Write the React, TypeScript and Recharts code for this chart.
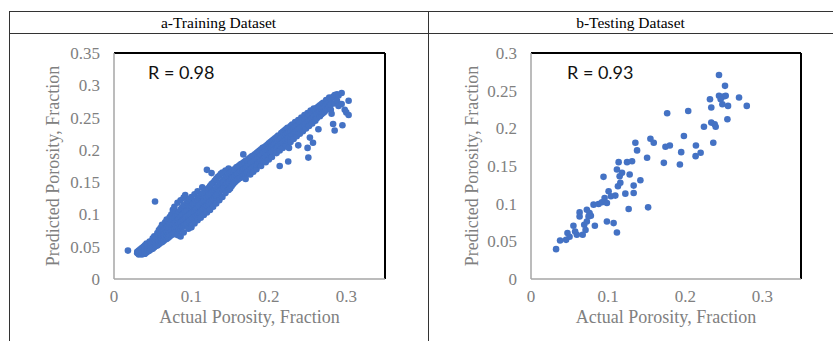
import React from 'react';
import { ScatterChart, Scatter, XAxis, YAxis, ReferenceLine } from 'recharts';

const panelTitles = ['a-Training Dataset', 'b-Testing Dataset'];
const rLabels = ['R = 0.98', 'R = 0.93'];
const xTitle = 'Actual Porosity, Fraction';
const yTitle = 'Predicted Porosity, Fraction';
const xTicks = [0, 0.1, 0.2, 0.3];
const trainYTicks = [0, 0.05, 0.1, 0.15, 0.2, 0.25, 0.3, 0.35];
const testYTicks = [0, 0.05, 0.1, 0.15, 0.2, 0.25, 0.3];

// [actual, predicted]
const trainingPoints: [number, number][] = [
  [0.018, 0.044],
  [0.030, 0.040], [0.030, 0.042],
  [0.032, 0.038], [0.032, 0.041], [0.032, 0.044],
  [0.034, 0.039], [0.034, 0.043], [0.034, 0.046],
  [0.036, 0.038], [0.036, 0.041], [0.036, 0.045], [0.036, 0.048],
  [0.038, 0.040], [0.038, 0.043], [0.038, 0.047], [0.038, 0.050],
  [0.040, 0.039], [0.040, 0.042], [0.040, 0.045], [0.040, 0.049], [0.040, 0.052],
  [0.042, 0.041], [0.042, 0.044], [0.042, 0.047], [0.042, 0.051], [0.042, 0.055],
  [0.044, 0.043], [0.044, 0.046], [0.044, 0.049], [0.044, 0.053],
  [0.046, 0.044], [0.046, 0.048], [0.046, 0.051], [0.046, 0.055], [0.046, 0.058],
  [0.048, 0.046], [0.048, 0.050], [0.048, 0.053], [0.048, 0.057],
  [0.050, 0.047], [0.050, 0.051], [0.050, 0.055], [0.050, 0.059], [0.050, 0.063],
  [0.052, 0.049], [0.052, 0.053], [0.052, 0.057], [0.052, 0.061], [0.052, 0.066],
  [0.053, 0.120],
  [0.054, 0.051], [0.054, 0.055], [0.054, 0.059], [0.054, 0.064],
  [0.056, 0.052], [0.056, 0.057], [0.056, 0.061], [0.056, 0.066], [0.056, 0.071],
  [0.058, 0.054], [0.058, 0.058], [0.058, 0.063], [0.058, 0.068], [0.058, 0.076],
  [0.060, 0.056], [0.060, 0.060], [0.060, 0.065], [0.060, 0.070], [0.060, 0.079],
  [0.062, 0.057], [0.062, 0.062], [0.062, 0.067], [0.062, 0.073], [0.062, 0.084],
  [0.064, 0.059], [0.064, 0.064], [0.064, 0.069], [0.064, 0.075], [0.064, 0.081],
  [0.066, 0.061], [0.066, 0.066], [0.066, 0.071], [0.066, 0.078], [0.066, 0.088],
  [0.068, 0.062], [0.068, 0.068], [0.068, 0.074], [0.068, 0.081], [0.068, 0.092],
  [0.070, 0.064], [0.070, 0.070], [0.070, 0.076], [0.070, 0.083], [0.070, 0.090],
  [0.072, 0.066], [0.072, 0.072], [0.072, 0.079], [0.072, 0.086], [0.072, 0.096],
  [0.074, 0.068], [0.074, 0.075], [0.074, 0.081], [0.074, 0.089], [0.074, 0.100],
  [0.076, 0.069], [0.076, 0.077], [0.076, 0.084], [0.076, 0.093], [0.076, 0.107],
  [0.078, 0.071], [0.078, 0.079], [0.078, 0.086], [0.078, 0.095], [0.078, 0.112],
  [0.080, 0.073], [0.080, 0.081], [0.080, 0.088], [0.080, 0.098], [0.080, 0.104],
  [0.082, 0.068], [0.082, 0.083], [0.082, 0.091], [0.082, 0.101], [0.082, 0.118],
  [0.084, 0.076], [0.084, 0.085], [0.084, 0.093], [0.084, 0.104],
  [0.086, 0.066], [0.086, 0.078], [0.086, 0.088], [0.086, 0.096], [0.086, 0.108], [0.086, 0.122],
  [0.088, 0.080], [0.088, 0.090], [0.088, 0.099], [0.088, 0.111],
  [0.090, 0.072], [0.090, 0.082], [0.090, 0.092], [0.090, 0.101], [0.090, 0.114], [0.090, 0.126],
  [0.092, 0.084], [0.092, 0.094], [0.092, 0.104], [0.092, 0.130],
  [0.094, 0.086], [0.094, 0.096], [0.094, 0.106], [0.094, 0.118],
  [0.096, 0.078], [0.096, 0.088], [0.096, 0.098], [0.096, 0.109], [0.096, 0.121],
  [0.098, 0.090], [0.098, 0.100], [0.098, 0.111], [0.098, 0.124],
  [0.100, 0.080], [0.100, 0.092], [0.100, 0.102], [0.100, 0.113], [0.100, 0.127],
  [0.102, 0.094], [0.102, 0.104], [0.102, 0.116],
  [0.104, 0.086], [0.104, 0.096], [0.104, 0.106], [0.104, 0.118], [0.104, 0.131],
  [0.106, 0.098], [0.106, 0.108], [0.106, 0.121],
  [0.108, 0.091], [0.108, 0.100], [0.108, 0.111], [0.108, 0.123], [0.108, 0.136],
  [0.110, 0.102], [0.110, 0.113], [0.110, 0.126],
  [0.112, 0.095], [0.112, 0.104], [0.112, 0.116], [0.112, 0.129],
  [0.114, 0.106], [0.114, 0.118], [0.114, 0.132], [0.114, 0.142],
  [0.116, 0.099], [0.116, 0.109], [0.116, 0.121], [0.116, 0.134],
  [0.118, 0.111], [0.118, 0.123], [0.118, 0.137],
  [0.120, 0.103], [0.120, 0.114], [0.120, 0.126], [0.120, 0.139], [0.120, 0.169],
  [0.122, 0.116], [0.122, 0.128], [0.122, 0.141],
  [0.124, 0.107], [0.124, 0.119], [0.124, 0.131], [0.124, 0.144],
  [0.126, 0.121], [0.126, 0.133], [0.126, 0.147], [0.126, 0.164],
  [0.128, 0.112], [0.128, 0.124], [0.128, 0.136], [0.128, 0.149],
  [0.130, 0.126], [0.130, 0.138], [0.130, 0.152],
  [0.132, 0.117], [0.132, 0.129], [0.132, 0.141], [0.132, 0.155],
  [0.134, 0.131], [0.134, 0.143], [0.134, 0.158],
  [0.136, 0.122], [0.136, 0.134], [0.136, 0.146], [0.136, 0.160],
  [0.138, 0.137], [0.138, 0.149], [0.138, 0.163],
  [0.140, 0.127], [0.140, 0.139], [0.140, 0.151], [0.140, 0.165],
  [0.142, 0.142], [0.142, 0.154], [0.142, 0.150],
  [0.144, 0.133], [0.144, 0.145], [0.144, 0.157], [0.144, 0.168],
  [0.146, 0.147], [0.146, 0.159],
  [0.148, 0.138], [0.148, 0.150], [0.148, 0.162], [0.148, 0.171],
  [0.150, 0.140], [0.150, 0.152], [0.150, 0.164],
  [0.152, 0.144], [0.152, 0.155], [0.152, 0.166],
  [0.154, 0.147], [0.154, 0.157], [0.154, 0.169],
  [0.156, 0.150], [0.156, 0.159], [0.156, 0.170],
  [0.158, 0.152], [0.158, 0.161], [0.158, 0.173],
  [0.160, 0.154], [0.160, 0.163], [0.160, 0.174],
  [0.162, 0.156], [0.162, 0.165], [0.162, 0.176],
  [0.164, 0.157], [0.164, 0.167], [0.164, 0.178],
  [0.166, 0.159], [0.166, 0.168], [0.166, 0.179],
  [0.167, 0.193],
  [0.168, 0.161], [0.168, 0.170], [0.168, 0.181],
  [0.170, 0.155], [0.170, 0.163], [0.170, 0.172], [0.170, 0.183],
  [0.172, 0.165], [0.172, 0.174], [0.172, 0.184],
  [0.174, 0.167], [0.174, 0.176], [0.174, 0.186],
  [0.176, 0.162], [0.176, 0.169], [0.176, 0.178], [0.176, 0.188],
  [0.178, 0.171], [0.178, 0.180], [0.178, 0.190],
  [0.180, 0.166], [0.180, 0.173], [0.180, 0.182], [0.180, 0.191],
  [0.182, 0.175], [0.182, 0.184], [0.182, 0.193],
  [0.184, 0.170], [0.184, 0.177], [0.184, 0.186], [0.184, 0.195],
  [0.186, 0.179], [0.186, 0.188], [0.186, 0.197],
  [0.188, 0.181], [0.188, 0.190], [0.188, 0.199],
  [0.190, 0.175], [0.190, 0.183], [0.190, 0.192], [0.190, 0.201],
  [0.192, 0.185], [0.192, 0.194], [0.192, 0.203],
  [0.194, 0.187], [0.194, 0.196], [0.194, 0.204],
  [0.196, 0.181], [0.196, 0.189], [0.196, 0.198], [0.196, 0.206],
  [0.198, 0.191], [0.198, 0.200], [0.198, 0.208],
  [0.200, 0.185], [0.200, 0.193], [0.200, 0.202], [0.200, 0.210],
  [0.202, 0.195], [0.202, 0.204], [0.202, 0.212],
  [0.204, 0.189], [0.204, 0.197], [0.204, 0.206], [0.204, 0.214],
  [0.206, 0.199], [0.206, 0.208], [0.206, 0.216],
  [0.208, 0.201], [0.208, 0.210], [0.208, 0.218],
  [0.210, 0.195], [0.210, 0.203], [0.210, 0.212], [0.210, 0.220],
  [0.212, 0.205], [0.212, 0.214], [0.212, 0.222],
  [0.214, 0.175], [0.214, 0.199], [0.214, 0.207], [0.214, 0.216],
  [0.216, 0.209], [0.216, 0.218], [0.216, 0.226],
  [0.218, 0.203], [0.218, 0.211], [0.218, 0.220], [0.218, 0.228],
  [0.220, 0.213], [0.220, 0.222], [0.220, 0.230],
  [0.222, 0.207], [0.222, 0.215], [0.222, 0.224], [0.222, 0.232],
  [0.224, 0.217], [0.224, 0.226], [0.224, 0.234],
  [0.225, 0.182],
  [0.226, 0.203], [0.226, 0.219], [0.226, 0.228],
  [0.228, 0.212], [0.228, 0.221], [0.228, 0.230], [0.228, 0.237],
  [0.230, 0.223], [0.230, 0.232], [0.230, 0.239],
  [0.232, 0.217], [0.232, 0.225], [0.232, 0.234],
  [0.234, 0.227], [0.234, 0.236], [0.234, 0.243],
  [0.236, 0.221], [0.236, 0.229], [0.236, 0.238],
  [0.238, 0.207], [0.238, 0.231], [0.238, 0.240], [0.238, 0.246],
  [0.240, 0.225], [0.240, 0.233], [0.240, 0.242],
  [0.242, 0.235], [0.242, 0.244], [0.242, 0.250],
  [0.244, 0.229], [0.244, 0.237], [0.244, 0.246],
  [0.246, 0.239], [0.246, 0.248], [0.246, 0.254],
  [0.248, 0.233], [0.248, 0.241], [0.248, 0.250],
  [0.250, 0.203], [0.250, 0.243], [0.250, 0.252], [0.250, 0.257],
  [0.251, 0.188],
  [0.252, 0.237], [0.252, 0.245], [0.252, 0.254],
  [0.253, 0.219],
  [0.254, 0.247], [0.254, 0.256], [0.254, 0.261],
  [0.256, 0.241], [0.256, 0.249], [0.256, 0.258],
  [0.257, 0.211],
  [0.258, 0.251], [0.258, 0.260], [0.258, 0.264],
  [0.260, 0.245], [0.260, 0.254], [0.260, 0.262],
  [0.262, 0.249], [0.262, 0.256], [0.262, 0.265],
  [0.264, 0.232], [0.264, 0.258], [0.264, 0.267],
  [0.266, 0.252], [0.266, 0.260], [0.266, 0.269],
  [0.268, 0.255], [0.268, 0.263], [0.268, 0.271],
  [0.270, 0.257], [0.270, 0.265], [0.270, 0.273],
  [0.272, 0.259], [0.272, 0.268],
  [0.274, 0.262], [0.274, 0.270], [0.274, 0.277],
  [0.276, 0.264], [0.276, 0.272],
  [0.278, 0.266], [0.278, 0.275], [0.278, 0.281],
  [0.280, 0.262], [0.280, 0.270], [0.280, 0.279],
  [0.281, 0.256],
  [0.283, 0.240], [0.283, 0.282],
  [0.285, 0.230], [0.285, 0.272], [0.285, 0.285],
  [0.288, 0.276], [0.288, 0.286],
  [0.290, 0.284], [0.290, 0.268],
  [0.294, 0.288], [0.294, 0.271],
  [0.295, 0.238],
  [0.298, 0.262],
  [0.300, 0.258],
  [0.303, 0.254], [0.303, 0.276],
];

// [actual, predicted]
const testingPoints: [number, number][] = [
  [0.0325, 0.0396], [0.0377, 0.0511], [0.0455, 0.052], [0.0473, 0.061], [0.05, 0.056],
  [0.055, 0.0707], [0.0594, 0.0587], [0.063, 0.0884], [0.063, 0.083], [0.067, 0.0587],
  [0.069, 0.072], [0.0707, 0.065], [0.0724, 0.0764], [0.0724, 0.092], [0.0759, 0.0876],
  [0.0776, 0.084], [0.0828, 0.0707], [0.0811, 0.0987], [0.0876, 0.0996], [0.092, 0.1018],
  [0.094, 0.1356], [0.0954, 0.1076], [0.0984, 0.0764], [0.1006, 0.1164], [0.1036, 0.1098],
  [0.1071, 0.0742], [0.1093, 0.1107], [0.1114, 0.0618], [0.1114, 0.1453], [0.1127, 0.1231],
  [0.1136, 0.1551], [0.1149, 0.1364], [0.118, 0.1409], [0.1223, 0.1133], [0.1245, 0.1551],
  [0.1266, 0.0929], [0.1279, 0.1387], [0.131, 0.1564], [0.1331, 0.124], [0.1331, 0.1142],
  [0.1353, 0.1809], [0.1375, 0.1707], [0.1418, 0.1311], [0.1505, 0.1609], [0.1518, 0.0951],
  [0.1548, 0.1862], [0.1591, 0.1809], [0.1722, 0.1542], [0.1743, 0.1756], [0.1765, 0.22],
  [0.18, 0.1773], [0.193, 0.152], [0.1947, 0.1684], [0.1982, 0.1898], [0.2038, 0.2231],
  [0.2134, 0.1631], [0.2138, 0.1773], [0.2199, 0.1676], [0.2242, 0.2022], [0.232, 0.2387],
  [0.2337, 0.2276], [0.2337, 0.2076], [0.2363, 0.1809], [0.2381, 0.2053], [0.2394, 0.2022],
  [0.2437, 0.2707], [0.2437, 0.2431], [0.2481, 0.232], [0.2494, 0.2422], [0.2515, 0.2564],
  [0.2524, 0.2431], [0.2546, 0.212], [0.2554, 0.2298], [0.2697, 0.2409], [0.2797, 0.2298],
  [0.1158, 0.1276], [0.0984, 0.1009], [0.0746, 0.0831], [0.0572, 0.0631], [0.2459, 0.2387],
];

const DOT = '#4472C4';
const GREY_TEXT = '#808080';
const AXIS_GREY = '#a6a6a6';
const SERIF = '"Liberation Serif", "Times New Roman", serif';

const Dot = (props: any) => <circle cx={props.cx} cy={props.cy} r={3.3} fill={DOT} />;

type PanelProps = {
  points: [number, number][];
  yTicks: number[];
  yMax: number;
  left: number;
  width: number;
  yAxisWidth: number;
  marginRight: number;
  yLabelOffset: number;
};

const tickStyle = { fill: GREY_TEXT, fontFamily: SERIF, fontSize: 17 };

function Panel({ points, yTicks, yMax, left, width, yAxisWidth, marginRight, yLabelOffset }: PanelProps) {
  const data = points.map(([x, y]) => ({ x, y }));
  return (
    <div style={{ position: 'absolute', left, top: 0 }}>
      <ScatterChart width={width} height={341} margin={{ top: 53, right: marginRight, bottom: 0, left: 0 }}>
        <XAxis
          type="number"
          dataKey="x"
          domain={[0, 0.35]}
          ticks={xTicks}
          interval={0}
          tickLine={false}
          tickSize={0}
          tickMargin={11}
          height={62}
          axisLine={{ stroke: AXIS_GREY, strokeWidth: 1.5 }}
          tick={tickStyle}
          label={{
            value: xTitle,
            position: 'insideBottom',
            offset: 18,
            style: { fill: GREY_TEXT, fontFamily: SERIF, fontSize: 18 },
          }}
        />
        <YAxis
          type="number"
          dataKey="y"
          domain={[0, yMax]}
          ticks={yTicks}
          interval={0}
          tickLine={false}
          tickSize={0}
          tickMargin={14}
          width={yAxisWidth}
          axisLine={{ stroke: AXIS_GREY, strokeWidth: 1.5 }}
          tick={tickStyle}
          label={{
            value: yTitle,
            angle: -90,
            position: 'insideLeft',
            offset: yLabelOffset,
            style: { textAnchor: 'middle', fill: GREY_TEXT, fontFamily: SERIF, fontSize: 18 },
          }}
        />
        <ReferenceLine y={yMax} stroke="#000" strokeWidth={2} />
        <ReferenceLine x={0.35} stroke="#000" strokeWidth={2} />
        <Scatter data={data} shape={Dot} isAnimationActive={false} />
      </ScatterChart>
    </div>
  );
}

export default function App() {
  return (
    <div style={{ position: 'absolute', left: 0, top: 0, width: 833, height: 341, background: '#fff', overflow: 'hidden' }}>
      <svg width={833} height={341} style={{ position: 'absolute', left: 0, top: 0 }}>
        <line x1={9} y1={11.5} x2={833} y2={11.5} stroke="#333" strokeWidth={1} />
        <line x1={9} y1={33.5} x2={833} y2={33.5} stroke="#333" strokeWidth={1} />
        <line x1={9.5} y1={11} x2={9.5} y2={341} stroke="#333" strokeWidth={1} />
        <line x1={428.5} y1={11} x2={428.5} y2={341} stroke="#333" strokeWidth={1} />
        <text x={218.5} y={28} textAnchor="middle" fontFamily={SERIF} fontSize={15.5} fill="#000">{panelTitles[0]}</text>
        <text x={630.5} y={28} textAnchor="middle" fontFamily={SERIF} fontSize={15.5} fill="#000">{panelTitles[1]}</text>
      </svg>
      <Panel points={trainingPoints} yTicks={trainYTicks} yMax={0.35} left={0} width={420} yAxisWidth={114} marginRight={35} yLabelOffset={53} />
      <Panel points={testingPoints} yTicks={testYTicks} yMax={0.3} left={420} width={413} yAxisWidth={111} marginRight={32} yLabelOffset={52} />
      <svg width={833} height={341} style={{ position: 'absolute', left: 0, top: 0, pointerEvents: 'none' }}>
        <text x={148} y={79} fontFamily="Lato, 'Open Sans', sans-serif" fontSize={18} fill="#111">{rLabels[0]}</text>
        <text x={567} y={79} fontFamily="Lato, 'Open Sans', sans-serif" fontSize={18} fill="#111">{rLabels[1]}</text>
      </svg>
    </div>
  );
}
